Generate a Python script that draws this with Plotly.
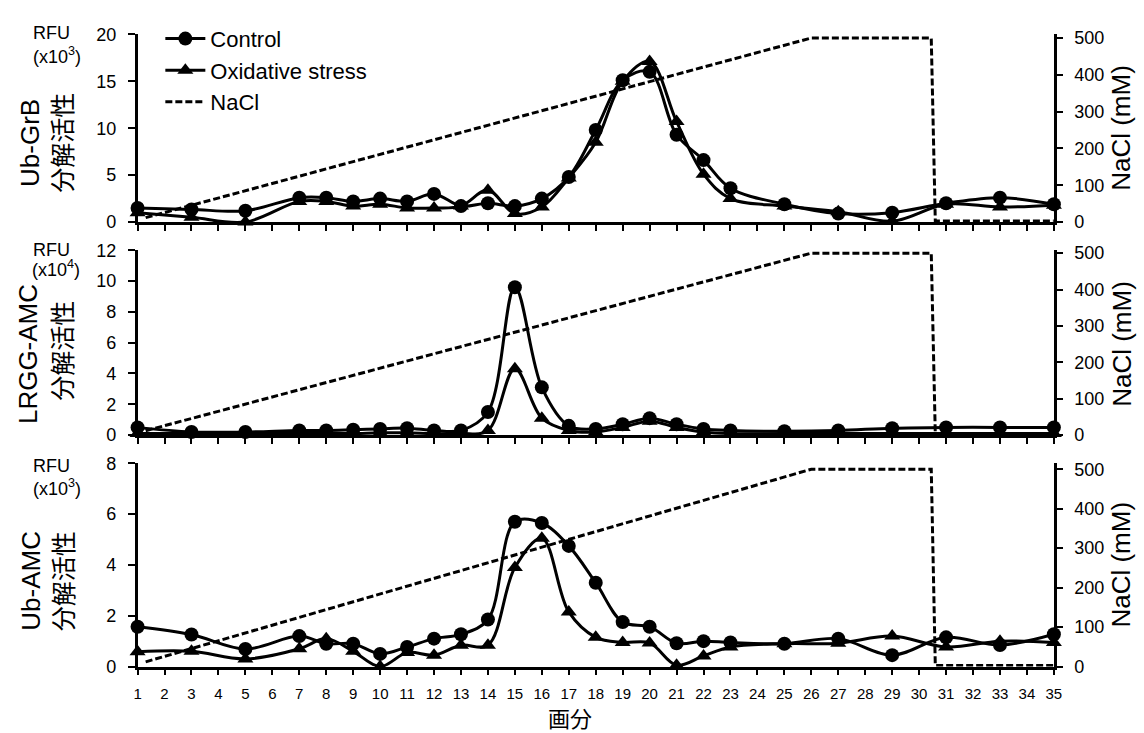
import plotly.graph_objects as go

W, H = 1144, 733

fractions = [1, 3, 5, 7, 8, 9, 10, 11, 12, 13, 14, 15, 16, 17, 18, 19, 20, 21, 22, 23, 25, 27, 29, 31, 33, 35]

grb_control = [1.5, 1.35, 1.2, 2.6, 2.6, 2.2, 2.5, 2.2, 3.0, 1.7, 2.0, 1.7, 2.5, 4.8, 9.8, 15.1, 16.0, 9.3, 6.6, 3.6, 1.9, 0.9, 1.0, 2.0, 2.6, 1.9]
grb_oxid = [1.0, 0.5, 0.0, 2.2, 2.2, 1.7, 1.9, 1.5, 1.5, 1.7, 3.4, 0.9, 1.6, 4.7, 8.5, 15.0, 17.1, 10.7, 5.1, 2.5, 1.7, 1.1, 0.1, 1.9, 1.6, 1.8]

lrgg_control = [0.5, 0.2, 0.2, 0.3, 0.3, 0.35, 0.4, 0.45, 0.3, 0.3, 1.5, 9.6, 3.1, 0.6, 0.4, 0.7, 1.1, 0.7, 0.4, 0.3, 0.25, 0.3, 0.45, 0.5, 0.5, 0.5]
lrgg_oxid = [0.1, 0.1, 0.1, 0.1, 0.1, 0.1, 0.15, 0.15, 0.1, 0.1, 0.3, 4.3, 1.1, 0.3, 0.2, 0.5, 0.9, 0.5, 0.2, 0.1, 0.1, 0.1, 0.1, 0.1, 0.1, 0.1]

ubamc_control = [1.57, 1.26, 0.69, 1.2, 0.9, 0.9, 0.5, 0.77, 1.1, 1.27, 1.85, 5.7, 5.65, 4.75, 3.3, 1.75, 1.57, 0.92, 1.0, 0.95, 0.9, 1.1, 0.45, 1.15, 0.85, 1.27]
ubamc_oxid = [0.58, 0.6, 0.3, 0.7, 1.1, 0.6, 0.0, 0.55, 0.45, 0.84, 0.84, 3.9, 5.05, 2.15, 1.15, 0.95, 0.93, 0.05, 0.42, 0.77, 0.9, 0.92, 1.2, 0.77, 1.0, 0.95]

nacl_x = [1.3, 26, 30.45, 30.6, 35]
nacl_y = [12, 500, 500, 3, 3]

x_ticks = list(range(1, 36))

FONT = "Arial, Liberation Sans, Noto Sans CJK JP, sans-serif"
CJK = "Noto Sans CJK JP, Arial, sans-serif"

def px_x(p):
    return p / W

def px_y(p):
    return (H - p) / H

panels = [
    ("x3", "y3", "y6", grb_control, grb_oxid),
    ("x2", "y2", "y5", lrgg_control, lrgg_oxid),
    ("x", "y", "y4", ubamc_control, ubamc_oxid),
]

fig = go.Figure()
for i, (xa, ya, yr, ctrl, ox) in enumerate(panels):
    first = i == 0
    fig.add_trace(go.Scatter(
        x=nacl_x, y=nacl_y, xaxis=xa, yaxis=yr, name="NaCl", legendgroup="nacl",
        mode="lines", line=dict(color="black", width=3, dash="7px,3px"),
        showlegend=first, legendrank=3, cliponaxis=False))
    fig.add_trace(go.Scatter(
        x=fractions, y=ctrl, xaxis=xa, yaxis=ya, name="Control", legendgroup="ctrl",
        mode="lines+markers", line=dict(color="black", width=3, shape="spline", smoothing=1.0),
        marker=dict(symbol="circle", size=14, color="black"),
        showlegend=first, legendrank=1, cliponaxis=False))
    fig.add_trace(go.Scatter(
        x=fractions, y=ox, xaxis=xa, yaxis=ya, name="Oxidative stress", legendgroup="ox",
        mode="lines+markers", line=dict(color="black", width=3, shape="spline", smoothing=1.0),
        marker=dict(symbol="triangle-up", size=14, color="black"),
        showlegend=first, legendrank=2, cliponaxis=False))

xdom = [px_x(135), px_x(1061)]
dom3 = [px_y(675), px_y(466)]
dom2 = [px_y(437), px_y(247)]
dom1 = [px_y(218), px_y(25)]

axis_common = dict(showline=True, linecolor="black", linewidth=2.5, ticks="outside",
                   tickcolor="black", tickwidth=2, showgrid=False, zeroline=False,
                   tickfont=dict(family=FONT, size=18, color="black"))

xcommon = dict(axis_common, range=[1, 35], tick0=1, dtick=1, ticklen=6, domain=xdom)

layout = dict(
    width=W, height=H, margin=dict(l=0, r=0, t=0, b=0),
    paper_bgcolor="white", plot_bgcolor="white",
    xaxis=dict(xcommon, anchor="y", showticklabels=True, tickvals=x_ticks,
               tickfont=dict(family=FONT, size=15, color="black"), ticklabelstandoff=6),
    xaxis2=dict(xcommon, anchor="y2", showticklabels=False),
    xaxis3=dict(xcommon, anchor="y3", showticklabels=False),
    yaxis=dict(axis_common, domain=dom3, range=[0, 8], dtick=2, ticklen=7, anchor="x", ticklabelstandoff=8),
    yaxis2=dict(axis_common, domain=dom2, range=[0, 12], dtick=2, ticklen=7, anchor="x2", ticklabelstandoff=8),
    yaxis3=dict(axis_common, domain=dom1, range=[0, 20], dtick=5, ticklen=7, anchor="x3", ticklabelstandoff=8),
    yaxis4=dict(axis_common, overlaying="y", side="right", anchor="x", range=[0, 515], dtick=100, ticklen=6, ticklabelstandoff=8),
    yaxis5=dict(axis_common, overlaying="y2", side="right", anchor="x2", range=[0, 508], dtick=100, ticklen=6, ticklabelstandoff=8),
    yaxis6=dict(axis_common, overlaying="y3", side="right", anchor="x3", range=[0, 510], dtick=100, ticklen=6, ticklabelstandoff=8),
    legend=dict(x=px_x(158), y=px_y(8), xanchor="left", yanchor="top",
                font=dict(family=FONT, size=22, color="black"), bgcolor="rgba(0,0,0,0)",
                tracegroupgap=4, itemwidth=40, traceorder="normal"),
    showlegend=True,
)
fig.update_layout(layout)

ann = []
def text(t, x, y, size, angle=0, family=FONT):
    ann.append(dict(text=t, x=px_x(x), y=px_y(y), xref="paper", yref="paper",
                    xanchor="center", yanchor="middle", showarrow=False, textangle=angle,
                    borderpad=0, font=dict(family=family, size=size, color="black")))

text("Ub-GrB", 27, 137, 26, -90)
text("分解活性", 58, 136, 25, -90, CJK)
text("LRGG-AMC", 25, 354, 26, -90)
text("分解活性", 58, 350, 25, -90, CJK)
text("Ub-AMC", 27, 587, 26, -90)
text("分解活性", 59, 587, 25, -90, CJK)
text("RFU", 48, 24, 18)
text("(x10<sup>3</sup>)", 54, 47, 18)
text("RFU", 48, 247, 18)
text("(x10<sup>4</sup>)", 53, 266, 18)
text("RFU", 48, 469, 18)
text("(x10<sup>3</sup>)", 54, 491, 18)
text("NaCl (mM)", 1129, 121, 26, -90)
text("NaCl (mM)", 1129, 343, 26, -90)
text("NaCl (mM)", 1129, 570, 26, -90)
text("画分", 572, 727, 22, 0, CJK)

fig.update_layout(annotations=ann)
fig.write_html("out.html")
